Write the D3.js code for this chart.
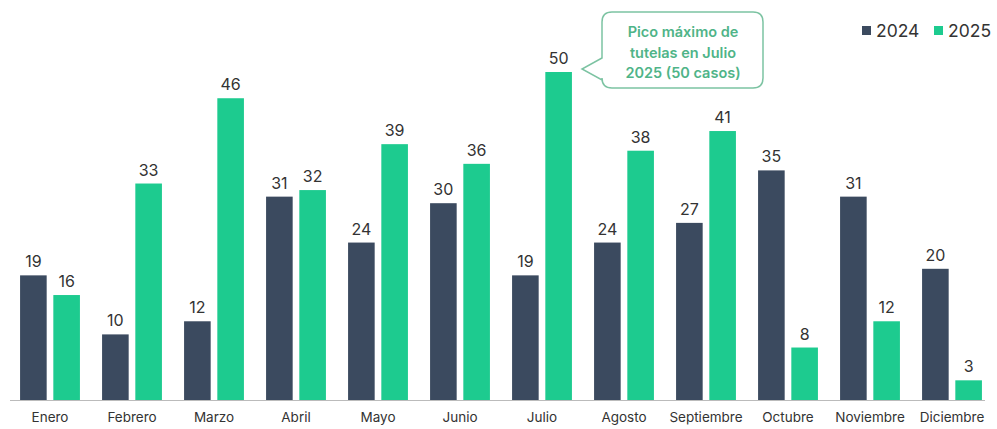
<!DOCTYPE html>
<html><head><meta charset="utf-8">
<script src="https://cdn.jsdelivr.net/npm/d3@7/dist/d3.min.js"></script>
<style>body{margin:0;background:#fff;}svg{display:block;font-family:Inter,"Noto Sans",sans-serif;}</style>
</head><body><svg id="c" width="997" height="429"></svg>
<script>
const months = ["Enero","Febrero","Marzo","Abril","Mayo","Junio","Julio","Agosto","Septiembre","Octubre","Noviembre","Diciembre"];
const series = ["2024","2025"];
const values2024 = [19,10,12,31,24,30,19,24,27,35,31,20];
const values2025 = [16,33,46,32,39,36,50,38,41,8,12,3];
const colors = ["#3b4a5f","#1dcb8f"];
const calloutLines = ["Pico máximo de","tutelas en Julio","2025 (50 casos)"];

const svg = d3.select("#c");
const baseY = 400;
const x0 = d3.scaleBand().domain(months).range([9,993]).paddingInner(0.27).paddingOuter(0.135);
const x1 = d3.scaleBand().domain(series).range([0,x0.bandwidth()]).paddingInner(0.2);
const y = d3.scaleLinear().domain([0,50]).range([baseY,72]);

const data = months.map((m,i)=>({m, vals:[values2024[i],values2025[i]]}));

const g = svg.append("g");
const groups = g.selectAll("g.grp").data(data).join("g").attr("transform",d=>`translate(${x0(d.m)},0)`);
groups.selectAll("rect").data(d=>d.vals.map((v,j)=>({s:series[j],v,j}))).join("rect")
  .attr("x",d=>x1(d.s)).attr("width",x1.bandwidth())
  .attr("y",d=>y(d.v)).attr("height",d=>baseY-y(d.v)).attr("fill",d=>colors[d.j]);
groups.selectAll("text").data(d=>d.vals.map((v,j)=>({s:series[j],v,j}))).join("text")
  .attr("x",d=>x1(d.s)+x1.bandwidth()/2).attr("y",d=>y(d.v)-8)
  .attr("text-anchor","middle").attr("font-size",16).attr("fill","#333")
  .text(d=>d.v);

// axis
const ax = svg.append("g").attr("transform",`translate(0,${baseY})`).call(d3.axisBottom(x0).tickSize(0).tickPadding(12));
ax.select(".domain").attr("stroke","#bbb").attr("d","M10,0.5H985");
ax.selectAll("text").attr("font-size",13.5).attr("fill","#333").attr("font-family","Inter,'Noto Sans',sans-serif");

// legend
const leg = svg.append("g");
const legX = [862,934];
series.forEach((s,i)=>{
  leg.append("rect").attr("x",legX[i]).attr("y",26).attr("width",9).attr("height",9).attr("fill",colors[i]);
  leg.append("text").attr("x",legX[i]+14).attr("y",37).attr("font-size",17.5).attr("fill","#333").text(s);
});

// callout
const bx=602, by=12, bw=161, bh=76, r=10;
const path = `M${bx+r},${by} H${bx+bw-r} Q${bx+bw},${by} ${bx+bw},${by+r} V${by+bh-r} Q${bx+bw},${by+bh} ${bx+bw-r},${by+bh} H${bx+r} Q${bx},${by+bh} ${bx},${by+bh-r} V80 L582,69 L${bx},58 V${by+r} Q${bx},${by} ${bx+r},${by} Z`;
svg.append("path").attr("d",path).attr("fill","#fff").attr("stroke","#7cc3a2").attr("stroke-width",1.5);
calloutLines.forEach((t,i)=>{
  svg.append("text").attr("x",683).attr("y",37+i*20.5).attr("text-anchor","middle")
    .attr("font-size",14.5).attr("font-weight",600).attr("fill","#4fb488").text(t);
});
</script></body></html>
